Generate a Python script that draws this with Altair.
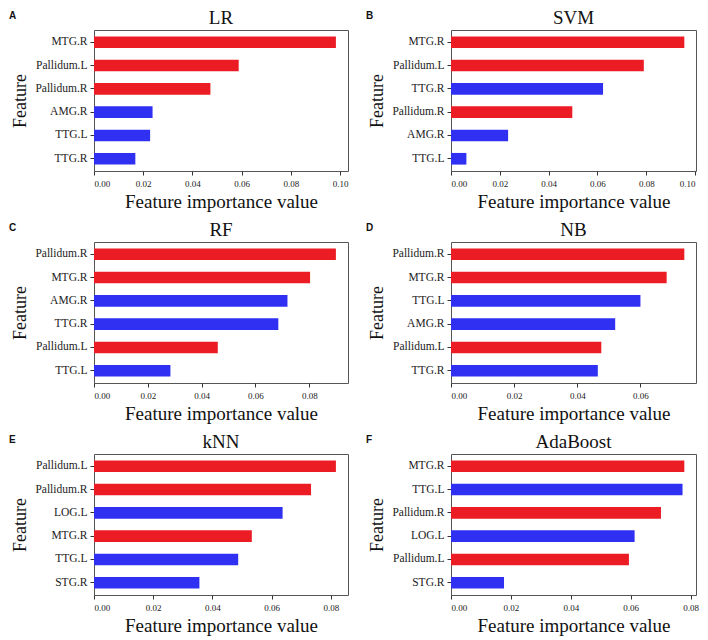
import altair as alt
import pandas as pd

# ---- data ----
LR_FEATURES = ["MTG.R", "Pallidum.L", "Pallidum.R", "AMG.R", "TTG.L", "TTG.R"]
LR_VALUES = [0.0983, 0.0588, 0.0473, 0.0238, 0.0228, 0.0168]

SVM_FEATURES = ["MTG.R", "Pallidum.L", "TTG.R", "Pallidum.R", "AMG.R", "TTG.L"]
SVM_VALUES = [0.0956, 0.0790, 0.0623, 0.0497, 0.0234, 0.0063]

RF_FEATURES = ["Pallidum.R", "MTG.R", "AMG.R", "TTG.R", "Pallidum.L", "TTG.L"]
RF_VALUES = [0.0899, 0.0803, 0.0719, 0.0685, 0.0460, 0.0284]

NB_FEATURES = ["Pallidum.R", "MTG.R", "TTG.L", "AMG.R", "Pallidum.L", "TTG.R"]
NB_VALUES = [0.0739, 0.0683, 0.0600, 0.0520, 0.0476, 0.0465]

KNN_FEATURES = ["Pallidum.L", "Pallidum.R", "LOG.L", "MTG.R", "TTG.L", "STG.R"]
KNN_VALUES = [0.0817, 0.0733, 0.0637, 0.0533, 0.0487, 0.0356]

ADA_FEATURES = ["MTG.R", "TTG.L", "Pallidum.R", "LOG.L", "Pallidum.L", "STG.R"]
ADA_VALUES = [0.0779, 0.0773, 0.0701, 0.0613, 0.0594, 0.0177]

RED_FEATURES = ["MTG.R", "Pallidum.L", "Pallidum.R"]

TICKS_TO_010 = [0.0, 0.02, 0.04, 0.06, 0.08, 0.10]
TICKS_TO_008 = [0.0, 0.02, 0.04, 0.06, 0.08]

RED = "#EC1C24"
BLUE = "#3030F2"
SERIF = "Liberation Serif"


def panel(letter, title, feats, vals, ticks, width):
    df = pd.DataFrame({
        "Feature": feats,
        "value": vals,
        "group": ["red" if f in RED_FEATURES else "blue" for f in feats],
    })
    xmax = max(vals) * 1.05
    base = alt.Chart(df)
    bars = base.mark_bar().encode(
        x=alt.X("value:Q",
                scale=alt.Scale(domain=[0, xmax], nice=False, zero=True),
                axis=alt.Axis(values=ticks, format=".2f",
                              title="Feature importance value")),
        y=alt.Y("Feature:N", sort=feats,
                scale=alt.Scale(paddingInner=0.5, paddingOuter=0.275),
                axis=alt.Axis(title="Feature")),
        color=alt.Color("group:N",
                        scale=alt.Scale(domain=["red", "blue"], range=[RED, BLUE]),
                        legend=None),
    )
    lab = alt.Chart(pd.DataFrame({"t": [letter]})).mark_text(
        font="Liberation Sans", fontWeight="bold", fontSize=10,
        align="left", baseline="alphabetic", color="#111"
    ).encode(text="t:N", x=alt.value(-85), y=alt.value(-11))
    ttl = alt.Chart(pd.DataFrame({"t": [title]})).mark_text(
        font=SERIF, fontSize=19, align="center", baseline="alphabetic",
        color="#111"
    ).encode(text="t:N", x=alt.value(width / 2), y=alt.value(-6))
    return alt.layer(bars, lab, ttl).properties(width=width, height=141)


row1 = alt.hconcat(
    panel("A", "LR", LR_FEATURES, LR_VALUES, TICKS_TO_010, 254),
    panel("B", "SVM", SVM_FEATURES, SVM_VALUES, TICKS_TO_010, 245),
    spacing=16,
)
row2 = alt.hconcat(
    panel("C", "RF", RF_FEATURES, RF_VALUES, TICKS_TO_008, 254),
    panel("D", "NB", NB_FEATURES, NB_VALUES, TICKS_TO_008, 245),
    spacing=16,
)
row3 = alt.hconcat(
    panel("E", "kNN", KNN_FEATURES, KNN_VALUES, TICKS_TO_008, 254),
    panel("F", "AdaBoost", ADA_FEATURES, ADA_VALUES, TICKS_TO_008, 245),
    spacing=16,
)

chart = alt.vconcat(row1, row2, row3, spacing=8).properties(
    padding=0, background="white"
).configure_view(
    stroke="#555", strokeWidth=1
).configure_axis(
    labelFont=SERIF, labelColor="#222",
    titleFont=SERIF, titleFontWeight="normal", titleColor="#111",
    grid=False, domain=False, tickColor="#333", tickSize=4,
).configure_axisY(
    labelFontSize=11.5, titleFontSize=18, titlePadding=5, labelPadding=3,
).configure_axisX(
    labelFontSize=9, titleFontSize=19, titlePadding=4, labelPadding=4,
)

chart.save("out.html", embed_options={"renderer": "svg", "actions": False})
